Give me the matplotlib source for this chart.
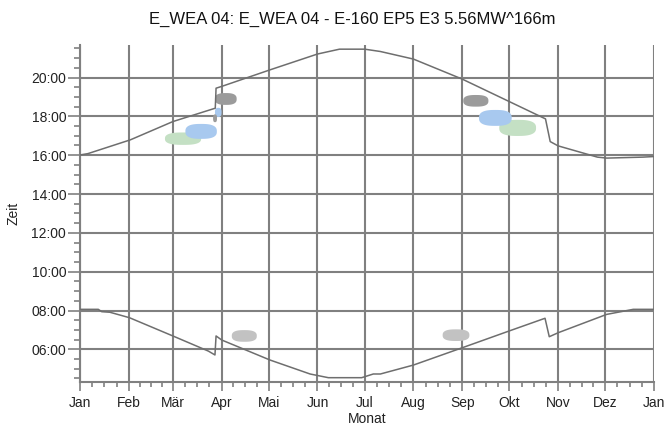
import numpy as np
import matplotlib
matplotlib.use("Agg")
import matplotlib.pyplot as plt
from matplotlib.patches import Polygon

plt.rcParams["font.family"] = ["Liberation Sans", "DejaVu Sans"]

# Monatsgrenzen (Tag im Jahr) und Beschriftung
month_start = [0, 31, 59, 90, 120, 151, 181, 212, 243, 273, 304, 334, 365]
month_labels = ["Jan", "Feb", "Mär", "Apr", "Mai", "Jun", "Jul", "Aug",
                "Sep", "Okt", "Nov", "Dez", "Jan"]

# Sonnenuntergang (Tag, Stunde)
sunset_day = [0, 5, 32, 59, 86, 86.5, 90, 121, 151, 165, 181, 191, 212,
              243, 273, 296, 299, 304, 329, 335, 358, 365]
sunset_time = [16.01, 16.08, 16.79, 17.73, 18.42, 19.45, 19.54, 20.40, 21.21,
               21.46, 21.46, 21.34, 20.95, 19.92, 18.76, 17.87, 16.70, 16.48,
               15.90, 15.85, 15.90, 15.93]

# Sonnenaufgang (Tag, Stunde)
sunrise_day = [0, 11.6, 13.8, 19, 31.4, 59, 81.6, 85.8, 86.5, 90.1, 120.8,
               146.3, 157.9, 179.1, 186.5, 191, 212, 243.7, 273.4, 295.7,
               298.4, 304.2, 334.9, 351.8, 365]
sunrise_time = [8.06, 8.06, 7.94, 7.91, 7.63, 6.69, 5.91, 5.71, 6.69, 6.48,
                5.45, 4.73, 4.54, 4.54, 4.73, 4.73, 5.19, 6.10, 6.96, 7.60,
                6.65, 6.86, 7.80, 8.06, 8.06]

# Schattenwurf-Bereiche: Tag von/bis, Uhrzeit von/bis, Farbe
shadow_d0 = [54, 266.6, 67, 253.7, 85.8, 84.6, 85.8, 243.7, 96.5, 230.6]
shadow_d1 = [77, 290, 87, 274.5, 90, 87.1, 99.6, 259.7, 112.4, 247.6]
shadow_t0 = [16.53, 16.99, 16.84, 17.51, 17.97, 17.70, 18.59, 18.50, 6.39, 6.43]
shadow_t1 = [17.17, 17.82, 17.61, 18.33, 18.44, 18.10, 19.20, 19.10, 6.99, 7.03]
shadow_col = ["#c4e0c4", "#c4e0c4", "#a8c9ef", "#a8c9ef", "#a8c9ef",
              "#9b9b9b", "#9b9b9b", "#9b9b9b", "#c2c2c2", "#c2c2c2"]

GRID = "#808080"
LINE = "#6e6e6e"


def blob(ax, d0, d1, t0, t1, color):
    # abgerundete Fläche (Superellipse) im Datenraum
    th = np.linspace(0, 2 * np.pi, 120)
    c, s = np.cos(th), np.sin(th)
    x = np.sign(c) * np.abs(c) ** 0.75
    y = np.sign(s) * np.abs(s) ** 0.75
    xm, ym = (d0 + d1) / 2, (t0 + t1) / 2
    xr, yr = (d1 - d0) / 2, (t1 - t0) / 2
    pts = np.column_stack([xm + xr * x, ym + yr * y])
    ax.add_patch(Polygon(pts, closed=True, facecolor=color, edgecolor="none",
                         zorder=3))


fig = plt.figure(figsize=(6.67, 4.26), dpi=100)
ax = fig.add_axes([0.12, 0.104, 0.8605, 0.79])

ax.set_xlim(0, 365)
ax.set_ylim(4 + 20 / 60, 21 + 40 / 60)

for d0, d1, t0, t1, col in zip(shadow_d0, shadow_d1, shadow_t0, shadow_t1, shadow_col):
    blob(ax, d0, d1, t0, t1, col)

ax.plot(sunset_day, sunset_time, color=LINE, lw=1.1, zorder=4)
ax.plot(sunrise_day, sunrise_time, color=LINE, lw=1.1, zorder=4)

# x-Achse: Monate
ax.set_xticks(month_start)
ax.set_xticklabels(month_labels)
minor_x = []
for a, b in zip(month_start[:-1], month_start[1:]):
    minor_x += [a + (b - a) * f for f in (0.25, 0.5, 0.75)]
ax.set_xticks(minor_x, minor=True)

# y-Achse: Uhrzeit
yt = list(range(6, 22, 2))
ax.set_yticks(yt)
ax.set_yticklabels([f"{h:02d}:00" for h in yt])
ax.set_yticks(np.arange(4.5, 21.7, 0.5), minor=True)

ax.grid(True, which="major", color=GRID, lw=1.5, zorder=1)
ax.set_axisbelow(True)

for side in ("top", "right"):
    ax.spines[side].set_visible(False)
for side in ("left", "bottom"):
    ax.spines[side].set_color(GRID)
    ax.spines[side].set_linewidth(1.5)

ax.tick_params(axis="x", which="major", direction="out", length=6.5, width=1.2,
               color=GRID, pad=4, labelsize=10, labelcolor="#222222")
ax.tick_params(axis="x", which="minor", direction="out", length=3.5, width=1.2,
               color=GRID)
ax.tick_params(axis="y", which="major", direction="out", length=9, width=1.2,
               color=GRID, pad=1, labelsize=10, labelcolor="#222222")
ax.tick_params(axis="y", which="minor", direction="out", length=4.5, width=1.2,
               color=GRID)

ax.set_xlabel("Monat", fontsize=10, labelpad=1, color="#222222")
ax.set_ylabel("Zeit", fontsize=10, labelpad=8, color="#222222")

fig.text(0.528, 0.955, "E_WEA 04: E_WEA 04 - E-160 EP5 E3 5.56MW^166m",
         ha="center", va="center", fontsize=12, color="#111111")

fig.savefig("out.png", dpi=100)
